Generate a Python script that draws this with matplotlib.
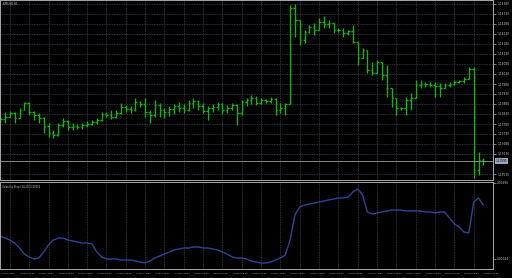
import matplotlib
matplotlib.use('Agg')
import matplotlib.pyplot as plt
import matplotlib.transforms as mtransforms

# EURUSD H1 bars
opens = [1.13825, 1.13805, 1.13815, 1.13835, 1.13810, 1.13850, 1.13885, 1.13840, 1.13825, 1.13810,
         1.13770, 1.13735, 1.13725, 1.13775, 1.13795, 1.13765, 1.13770, 1.13765, 1.13775, 1.13780,
         1.13790, 1.13800, 1.13830, 1.13825, 1.13815, 1.13835, 1.13865, 1.13855, 1.13850, 1.13890,
         1.13880, 1.13840, 1.13825, 1.13875, 1.13850, 1.13840, 1.13855, 1.13870, 1.13860, 1.13850,
         1.13885, 1.13895, 1.13870, 1.13845, 1.13860, 1.13865, 1.13880, 1.13850, 1.13860, 1.13875,
         1.13835, 1.13890, 1.13900, 1.13910, 1.13885, 1.13900, 1.13895, 1.13905, 1.13850, 1.13860,
         1.13880, 1.14360, 1.14300, 1.14200, 1.14240, 1.14265, 1.14250, 1.14290, 1.14280, 1.14285,
         1.14250, 1.14250, 1.14235, 1.14245, 1.14190, 1.14110, 1.14150, 1.14050, 1.14035, 1.14090,
         1.14025, 1.13960, 1.13910, 1.13860, 1.13860, 1.13900, 1.13910, 1.13975, 1.13980, 1.13980,
         1.13975, 1.13970, 1.13960, 1.13975, 1.13980, 1.13990, 1.13995, 1.14005, 1.14055, 1.13550,
         1.13600]
highs = [1.13840, 1.13840, 1.13845, 1.13840, 1.13860, 1.13890, 1.13890, 1.13845, 1.13835, 1.13815,
         1.13785, 1.13750, 1.13785, 1.13810, 1.13800, 1.13785, 1.13780, 1.13785, 1.13795, 1.13800,
         1.13810, 1.13840, 1.13840, 1.13850, 1.13850, 1.13885, 1.13875, 1.13870, 1.13910, 1.13895,
         1.13910, 1.13850, 1.13900, 1.13885, 1.13860, 1.13870, 1.13880, 1.13890, 1.13880, 1.13900,
         1.13910, 1.13900, 1.13885, 1.13870, 1.13880, 1.13890, 1.13885, 1.13875, 1.13885, 1.13880,
         1.13900, 1.13910, 1.13925, 1.13920, 1.13910, 1.13905, 1.13915, 1.13910, 1.13885, 1.13885,
         1.14375, 1.14380, 1.14300, 1.14250, 1.14275, 1.14285, 1.14310, 1.14320, 1.14300, 1.14285,
         1.14260, 1.14260, 1.14250, 1.14275, 1.14190, 1.14160, 1.14150, 1.14090, 1.14100, 1.14090,
         1.14075, 1.13960, 1.13910, 1.13865, 1.13915, 1.13935, 1.14000, 1.14000, 1.13990, 1.13990,
         1.13990, 1.13985, 1.13985, 1.13990, 1.14000, 1.14000, 1.14015, 1.14065, 1.14065, 1.13640,
         1.13610]
lows = [1.13775, 1.13785, 1.13815, 1.13785, 1.13810, 1.13850, 1.13825, 1.13800, 1.13785, 1.13735,
        1.13715, 1.13710, 1.13720, 1.13765, 1.13750, 1.13750, 1.13755, 1.13755, 1.13765, 1.13775,
        1.13780, 1.13795, 1.13815, 1.13805, 1.13810, 1.13830, 1.13840, 1.13835, 1.13845, 1.13865,
        1.13815, 1.13785, 1.13815, 1.13815, 1.13810, 1.13820, 1.13830, 1.13840, 1.13835, 1.13845,
        1.13860, 1.13850, 1.13835, 1.13800, 1.13840, 1.13850, 1.13830, 1.13835, 1.13850, 1.13775,
        1.13825, 1.13870, 1.13880, 1.13875, 1.13880, 1.13885, 1.13885, 1.13825, 1.13835, 1.13825,
        1.13880, 1.14215, 1.14175, 1.14185, 1.14235, 1.14225, 1.14250, 1.14260, 1.14260, 1.14235,
        1.14240, 1.14215, 1.14225, 1.14185, 1.14075, 1.14110, 1.14035, 1.14025, 1.14035, 1.14000,
        1.13915, 1.13865, 1.13825, 1.13850, 1.13825, 1.13850, 1.13910, 1.13960, 1.13965, 1.13965,
        1.13915, 1.13915, 1.13960, 1.13965, 1.13975, 1.13985, 1.13985, 1.14005, 1.13510, 1.13525,
        1.13575]
closes = [1.13805, 1.13815, 1.13835, 1.13810, 1.13850, 1.13885, 1.13840, 1.13825, 1.13810, 1.13770,
          1.13735, 1.13725, 1.13775, 1.13795, 1.13765, 1.13770, 1.13765, 1.13775, 1.13780, 1.13790,
          1.13800, 1.13830, 1.13825, 1.13815, 1.13835, 1.13865, 1.13855, 1.13850, 1.13890, 1.13880,
          1.13840, 1.13825, 1.13875, 1.13850, 1.13840, 1.13855, 1.13870, 1.13860, 1.13850, 1.13885,
          1.13895, 1.13870, 1.13845, 1.13860, 1.13865, 1.13880, 1.13850, 1.13860, 1.13875, 1.13835,
          1.13890, 1.13900, 1.13910, 1.13885, 1.13900, 1.13895, 1.13905, 1.13850, 1.13860, 1.13880,
          1.14360, 1.14300, 1.14200, 1.14240, 1.14265, 1.14250, 1.14290, 1.14280, 1.14285, 1.14250,
          1.14250, 1.14235, 1.14245, 1.14190, 1.14110, 1.14150, 1.14050, 1.14035, 1.14090, 1.14025,
          1.13960, 1.13910, 1.13860, 1.13860, 1.13900, 1.13910, 1.13975, 1.13980, 1.13980, 1.13975,
          1.13970, 1.13960, 1.13975, 1.13980, 1.13990, 1.13995, 1.14005, 1.14055, 1.13550, 1.13600,
          1.13595]

# indicator sub-window
vstop = [0.00190, 0.00186, 0.00182, 0.00176, 0.00166, 0.00154, 0.00148, 0.00144, 0.00146, 0.00158,
         0.00172, 0.00182, 0.00186, 0.00186, 0.00182, 0.00180, 0.00178, 0.00176, 0.00176, 0.00174,
         0.00158, 0.00148, 0.00144, 0.00144, 0.00144, 0.00142, 0.00142, 0.00142, 0.00140, 0.00138,
         0.00136, 0.00140, 0.00146, 0.00150, 0.00154, 0.00158, 0.00162, 0.00164, 0.00166, 0.00166,
         0.00168, 0.00168, 0.00166, 0.00166, 0.00164, 0.00162, 0.00158, 0.00154, 0.00148, 0.00146,
         0.00146, 0.00144, 0.00140, 0.00138, 0.00136, 0.00136, 0.00138, 0.00142, 0.00146, 0.00152,
         0.00182, 0.00232, 0.00248, 0.00252, 0.00254, 0.00256, 0.00258, 0.00260, 0.00262, 0.00264,
         0.00266, 0.00266, 0.00268, 0.00278, 0.00284, 0.00272, 0.00238, 0.00234, 0.00236, 0.00238,
         0.00240, 0.00242, 0.00242, 0.00242, 0.00240, 0.00240, 0.00240, 0.00240, 0.00238, 0.00238,
         0.00236, 0.00238, 0.00238, 0.00226, 0.00214, 0.00208, 0.00198, 0.00196, 0.00258, 0.00266,
         0.00252]

price_ticks = [1.14380, 1.14330, 1.14280, 1.14230, 1.14180, 1.14130, 1.14080, 1.14030, 1.13980,
               1.13930, 1.13880, 1.13830, 1.13780, 1.13730, 1.13680, 1.13630, 1.13530]
bid = 1.13595
sub_ticks = [0.00144, 0.00296]

time_labels = ['16 May 2016', '16 May 12:00', '16 May 16:00', '16 May 20:00', '17 May 00:00',
               '17 May 04:00', '17 May 08:00', '17 May 12:00', '17 May 16:00', '17 May 20:00',
               '18 May 00:00', '18 May 04:00', '18 May 08:00', '18 May 12:00', '18 May 16:00',
               '18 May 20:00', '19 May 00:00', '19 May 04:00', '19 May 08:00', '19 May 12:00',
               '19 May 16:00', '19 May 20:00', '20 May 00:00', '20 May 04:00', '20 May 08:00',
               '20 May 12:00']

bar_color = '#00c400'
frame = '#a8a8a8'
txt = '#c8c8c8'
fs = 2.1

W, H = 512, 278
fig = plt.figure(figsize=(W / 100, H / 100), dpi=100, facecolor='black')


def px_axes(left, top, right, bottom):
    return fig.add_axes([left / W, 1 - bottom / H, (right - left) / W, (bottom - top) / H])


main = px_axes(0, 0, 493, 180)
sub = px_axes(0, 182, 493, 269)

x = list(range(len(closes)))
grid_x = [2 + 4 * k for k in range(len(time_labels))]

for ax in (main, sub):
    ax.set_facecolor('black')
    ax.set_xlim(-0.04, 100.57)
    for s in ax.spines.values():
        s.set_color(frame)
        s.set_linewidth(0.7)
    ax.set_xticks(grid_x)
    ax.tick_params(axis='x', length=0, labelbottom=False)
    ax.grid(axis='x', color='#3a4250', linestyle=(0, (1, 1)), linewidth=0.6)
    ax.yaxis.tick_right()
    ax.tick_params(axis='y', length=2, width=0.5, color=frame, labelsize=fs,
                   labelcolor=txt, pad=1)

# main price window
main.set_ylim(1.13500, 1.14400)
main.set_yticks(price_ticks)
main.set_yticklabels(['%.5f' % p for p in price_ticks])
main.grid(axis='y', color='#3a4250', linestyle=(0, (1, 1)), linewidth=0.6)

main.vlines(x, lows, highs, color=bar_color, linewidth=0.9)
main.hlines(opens, [i - 0.35 for i in x], x, color=bar_color, linewidth=0.9)
main.hlines(closes, x, [i + 0.35 for i in x], color=bar_color, linewidth=0.9)

main.axhline(bid, color='#9a9a9a', linewidth=0.6)
main.text(1.005, bid, '%.5f' % bid,
          transform=mtransforms.blended_transform_factory(main.transAxes, main.transData),
          fontsize=fs, color='black', va='center', ha='left', clip_on=False,
          bbox=dict(boxstyle='square,pad=0.25', facecolor='#9aa8ba', edgecolor='none'))
main.text(0.005, 0.988, 'EURUSD,H1', transform=main.transAxes, fontsize=1.9, color=txt,
          ha='left', va='top')

# indicator window
sub.set_ylim(0.00124, 0.00298)
sub.set_yticks(sub_ticks)
sub.set_yticklabels(['%.5f' % v for v in sub_ticks])
sub.plot(x, vstop, color='#2c4593', linewidth=1.0)
sub.text(0.005, 0.97, 'Volatility Stop (14,20) 0.00252', transform=sub.transAxes, fontsize=1.8,
         color=txt, ha='left', va='top')

tr = mtransforms.blended_transform_factory(sub.transData, sub.transAxes)
for gx, lab in zip(grid_x, time_labels):
    sub.text(gx - 0.4, -0.05, lab, transform=tr, fontsize=1.5, color=txt,
             ha='center', va='center', clip_on=False)

fig.savefig('out.png', dpi=100, facecolor='black')
